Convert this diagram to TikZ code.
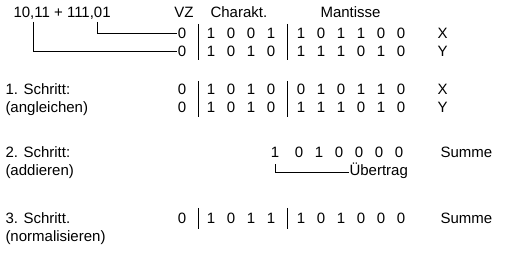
\documentclass[tikz,border=0pt]{standalone}
\usepackage{fontspec}
\setmainfont{Liberation Sans}
\begin{document}
\begin{tikzpicture}[x=1pt, y=-1pt, line width=1pt,
    every node/.style={inner sep=0pt, anchor=base, font=\fontsize{15}{18}\selectfont},
    lbl/.style={anchor=base west}]
\useasboundingbox (0,0) rectangle (516,264);

% Kopfzeile
\node[lbl] (aufg) at (13,18) {10,11 + 111,01};
\node (vz) at (184,17.5) {VZ};
\node[lbl] (char) at (210,17.5) {Charakt.};
\node[lbl] (mant) at (320,17.5) {Mantisse};
\coordinate (kx) at (97,22);
\coordinate (ky) at (33,22);

% Zahlen X und Y
\foreach \px/\b [count=\i] in {182/0,211/1,231/0,251/0,271/1,301/1,321/0,341/1,361/1,381/0,401/0}
  \node (ax\i) at (\px,38.5) {\b};
\foreach \px/\b [count=\i] in {182/0,211/1,231/0,251/1,271/0,301/1,321/1,341/1,361/0,381/1,401/0}
  \node (ay\i) at (\px,56.5) {\b};
\node[lbl] (nx) at (437,38.5) {X};
\node[lbl] (ny) at (437,56.5) {Y};
\draw (198,24) -- (198,60);
\draw (287,24) -- (287,60);
\draw (kx) |- (ax1.west);
\draw (ky) |- (ay1.west);

% 1. Schritt
\node[lbl] (s1a) at (5,95) {1. Schritt:};
\node[lbl] (s1b) at (5,113) {(angleichen)};
\foreach \px/\b [count=\i] in {182/0,211/1,231/0,251/1,271/0,301/0,321/1,341/0,361/1,381/1,401/0}
  \node (bx\i) at (\px,95) {\b};
\foreach \px/\b [count=\i] in {182/0,211/1,231/0,251/1,271/0,301/1,321/1,341/1,361/0,381/1,401/0}
  \node (by\i) at (\px,113) {\b};
\node[lbl] (mx) at (437,95) {X};
\node[lbl] (my) at (437,113) {Y};
\draw (198,81) -- (198,117);
\draw (287,81) -- (287,117);

% 2. Schritt
\node[lbl] (s2a) at (5,158) {2. Schritt:};
\node[lbl] (s2b) at (5,176) {(addieren)};
\foreach \px/\b [count=\i] in {275/1,299/0,319/1,339/0,359/0,379/0,399/0}
  \node (c\i) at (\px,158) {\b};
\node[lbl] (sum2) at (440,158) {Summe};
\node[lbl] (ueb) at (349,176) {Übertrag};
\draw ([yshift=-6pt]c1.south) |- ([yshift=3pt]ueb.base west);

% 3. Schritt
\node[lbl] (s3a) at (5,223.5) {3. Schritt.};
\node[lbl] (s3b) at (5,241.5) {(normalisieren)};
\foreach \px/\b [count=\i] in {182/0,211/1,231/0,251/1,271/1,301/1,321/0,341/1,361/0,381/0,401/0}
  \node (d\i) at (\px,223.5) {\b};
\node[lbl] (sum3) at (440,223.5) {Summe};
\draw (198,208) -- (198,229);
\draw (287,208) -- (287,229);
\end{tikzpicture}
\end{document}
